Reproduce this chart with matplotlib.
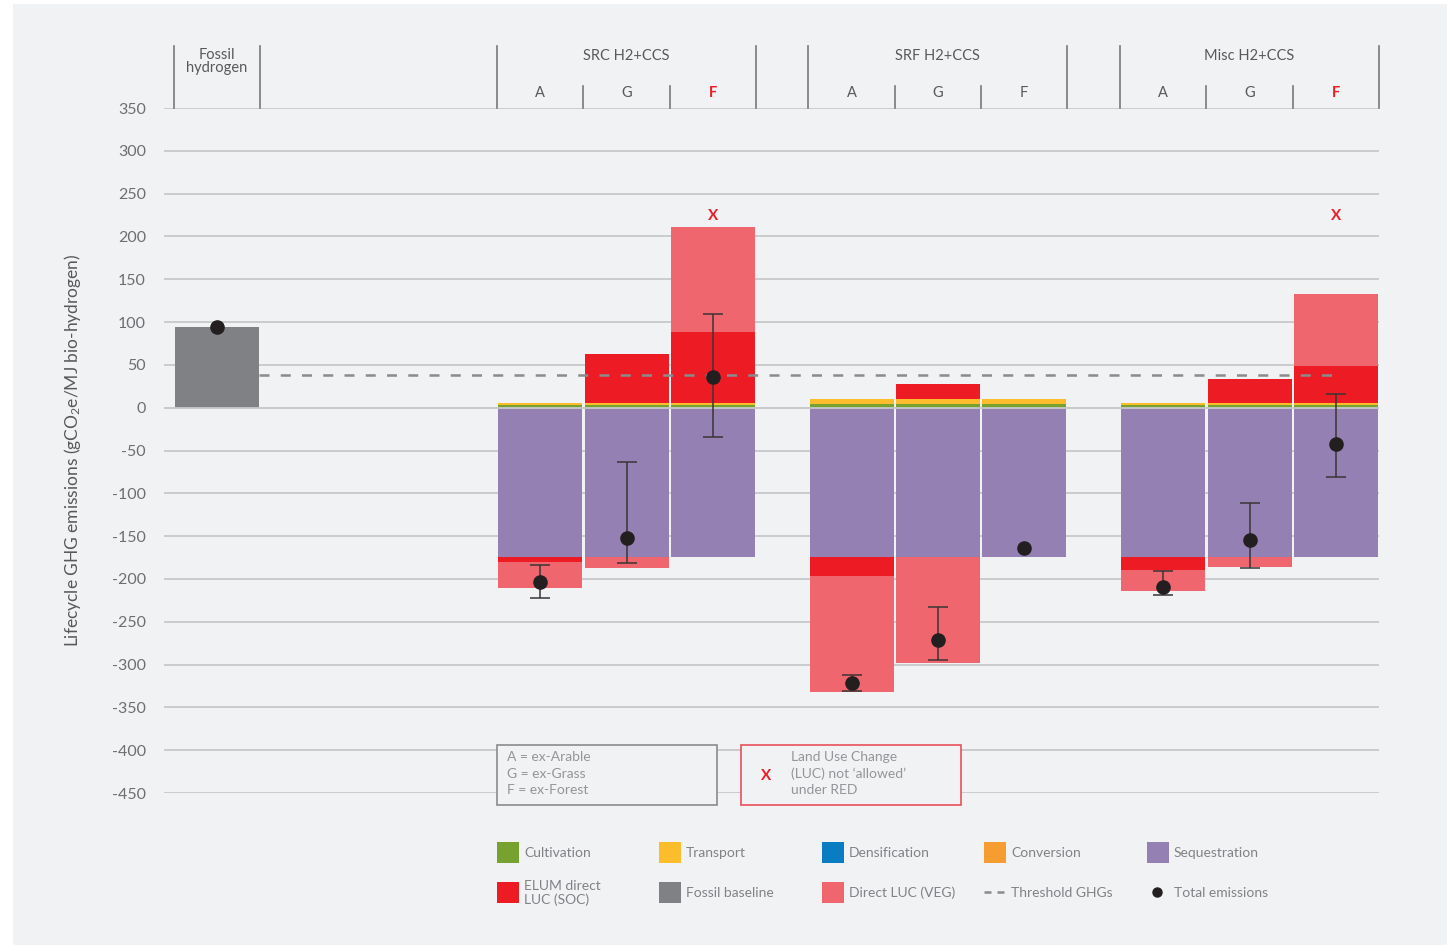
import matplotlib
matplotlib.use("Agg")
import matplotlib.pyplot as plt
from matplotlib.patches import Rectangle
import numpy as np

plt.rcParams['font.family'] = ['Lato', 'DejaVu Sans']
plt.rcParams['mathtext.fontset'] = 'custom'
plt.rcParams['mathtext.rm'] = 'Lato'
plt.rcParams['mathtext.it'] = 'Lato:italic'

# ---------------- data ----------------
groups = ['SRC H2+CCS', 'SRF H2+CCS', 'Misc H2+CCS']
subs = ['A', 'G', 'F']
not_allowed = [False, False, True, False, False, False, False, False, True]
cultivation = [3, 3, 3, 4, 4, 4, 3, 3, 3]
transport = [3, 3, 3, 6, 6, 6, 3, 3, 3]
densification = [0, 0, 0, 0, 0, 0, 0, 0, 0]
conversion = [0, 0, 0, 0, 0, 0, 0, 0, 0]
sequestration = [-174, -174, -174, -174, -174, -174, -174, -174, -174]
elum_soc = [-6, 57, 82, -23, 18, 0, -15, 28, 43]
direct_veg = [-30, -13, 123, -135, -124, 0, -25, -12, 84]
total = [-204, -152, 36, -322, -271, -164, -209, -155, -42]
err_hi = [-184, -64, 110, -312, -233, np.nan, -191, -111, 16]
err_lo = [-222, -181, -34, -331, -295, np.nan, -219, -187, -81]
fossil_baseline = 94.6
fossil_total = 94
threshold = 38.5
yticks = list(range(-450, 351, 50))

# ---------------- style ----------------
C_CULT = '#77a22f'
C_TRAN = '#fbbd2c'
C_DENS = '#0a7cc2'
C_CONV = '#f59d31'
C_SEQ = '#9580b3'
C_ELUM = '#ed1c24'
C_FOSS = '#808184'
C_VEG = '#f0666e'
C_DOT = '#231f20'
TXT = '#6d6e71'
GRID = '#c8c9cb'
BG = '#f1f2f4'

W, H = 1456, 947
fig = plt.figure(figsize=(W / 100, H / 100), dpi=100, facecolor='white')
fig.patches.append(Rectangle((13 / W, 1 - 945 / H), (1447 - 13) / W, (945 - 4) / H,
                             transform=fig.transFigure, facecolor=BG, edgecolor='none', zorder=-10))

ax_left, ax_right = 164, 1379
ax_top, ax_bot = 108, 793
ax = fig.add_axes([ax_left / W, 1 - ax_bot / H, (ax_right - ax_left) / W, (ax_bot - ax_top) / H])
ax.set_facecolor('none')
ax.set_xlim(-0.614, 13.46)
ax.set_ylim(-450, 350)
for s in ax.spines.values():
    s.set_visible(False)
ax.set_xticks([])
ax.set_yticks(yticks)
ax.set_yticklabels([str(v) for v in yticks])
ax.tick_params(axis='y', length=0, pad=13, labelsize=11.5, labelcolor=TXT)
for v in yticks:
    ax.axhline(v, color=GRID, lw=1.3, zorder=0)

ax.set_ylabel('Lifecycle GHG emissions (gCO$_2$e/MJ bio-hydrogen)', fontsize=12.5,
              color='#58595b', labelpad=21)

# positions (layout)
group_starts = [3.245, 6.85, 10.46]
xs = []
for gs in group_starts:
    for k in range(3):
        xs.append(gs + 0.5 + k)
xs = np.array(xs)
bw = 0.973

# fossil bar
ax.bar(0, fossil_baseline, width=bw, color=C_FOSS, zorder=2)
ax.plot(0, fossil_total, 'o', color=C_DOT, ms=9.5, zorder=5)

# stacked bars
pos_b = np.zeros(len(xs))
neg_b = np.zeros(len(xs))
for series, col in [(cultivation, C_CULT), (transport, C_TRAN), (densification, C_DENS),
                    (conversion, C_CONV), (sequestration, C_SEQ), (elum_soc, C_ELUM),
                    (direct_veg, C_VEG)]:
    vals = np.array(series, dtype=float)
    pos = np.where(vals > 0, vals, 0)
    neg = np.where(vals < 0, vals, 0)
    ax.bar(xs, pos, width=bw, bottom=pos_b, color=col, zorder=2, linewidth=0)
    ax.bar(xs, neg, width=bw, bottom=neg_b, color=col, zorder=2, linewidth=0)
    pos_b += pos
    neg_b += neg

ax.axhline(0, color=GRID, lw=1.3, zorder=3)

# threshold line
ax.plot([0.487, xs[-1]], [threshold, threshold], color='#8a8b8d', lw=1.8,
        dashes=(4, 4.5), zorder=4)

# totals with error bars
tot = np.array(total, dtype=float)
ehi = np.array(err_hi, dtype=float)
elo = np.array(err_lo, dtype=float)
yerr = np.vstack([tot - elo, ehi - tot])
ax.errorbar(xs, tot, yerr=yerr, fmt='o', color=C_DOT, ms=9.5, elinewidth=1.1,
            capsize=7, capthick=1.1, ecolor='#3a3536', zorder=5)

for x, na in zip(xs, not_allowed):
    if na:
        ax.text(x, 224, 'X', color=C_ELUM, ha='center', va='center', fontsize=11, fontweight='bold')

# ---------------- header ----------------
px2v = lambda py: (407.7 - py) / 0.85625
HL = '#77787b'
ytop = px2v(46)
ymid = px2v(86)
ybase = 350
for xv in [-0.498, 0.498]:
    ax.plot([xv, xv], [ybase, ytop], color=HL, lw=1.2, clip_on=False)
ax.text(0, px2v(55), 'Fossil', ha='center', va='center', fontsize=10.5,
        color='#58595b', clip_on=False)
ax.text(0, px2v(68), 'hydrogen', ha='center', va='center', fontsize=10.5,
        color='#58595b', clip_on=False)
for gs, gname in zip(group_starts, groups):
    for xv in [gs, gs + 3]:
        ax.plot([xv, xv], [ybase, ytop], color=HL, lw=1.2, clip_on=False)
    for xv in [gs + 1, gs + 2]:
        ax.plot([xv, xv], [ybase, ymid], color=HL, lw=1.2, clip_on=False)
    ax.text(gs + 1.5, px2v(56), gname, ha='center', va='center', fontsize=10.5,
            color='#58595b', clip_on=False)
i = 0
for gs in group_starts:
    for k, sname in enumerate(subs):
        red = not_allowed[i]
        ax.text(gs + 0.5 + k, px2v(93), sname, ha='center', va='center', fontsize=10.5,
                color=C_ELUM if red else '#58595b', fontweight='bold' if red else 'normal',
                clip_on=False)
        i += 1

# ---------------- overlay (pixel coords) ----------------
ov = fig.add_axes([0, 0, 1, 1])
ov.set_xlim(0, W)
ov.set_ylim(H, 0)
ov.axis('off')
ov.patch.set_visible(False)

ov.add_patch(Rectangle((497, 745), 220, 60, facecolor=BG, edgecolor='#8a8b8d', lw=1.2))
ov.add_patch(Rectangle((741, 745), 220, 60, facecolor=BG, edgecolor='#e8505a', lw=1.2))
for j, t in enumerate(['A = ex-Arable', 'G = ex-Grass', 'F = ex-Forest']):
    ov.text(507, 757 + j * 16.5, t, fontsize=10, color='#939598', va='center', ha='left')
for j, t in enumerate(['Land Use Change', '(LUC) not \u2018allowed\u2019', 'under RED']):
    ov.text(791, 757 + j * 16.5, t, fontsize=10, color='#939598', va='center', ha='left')
ov.text(766, 776, 'X', color=C_ELUM, fontsize=11, fontweight='bold', ha='center', va='center')

cols = [497, 659, 822, 984, 1147]
row1 = [('Cultivation', C_CULT), ('Transport', C_TRAN), ('Densification', C_DENS),
        ('Conversion', C_CONV), ('Sequestration', C_SEQ)]
for x0, (lab, col) in zip(cols, row1):
    ov.add_patch(Rectangle((x0, 842), 22, 21, facecolor=col, edgecolor='none'))
    ov.text(x0 + 27, 853, lab, fontsize=10, color='#808285', va='center', ha='left')
row2 = [('ELUM direct\nLUC (SOC)', C_ELUM), ('Fossil baseline', C_FOSS), ('Direct LUC (VEG)', C_VEG)]
for x0, (lab, col) in zip(cols[:3], row2):
    ov.add_patch(Rectangle((x0, 882), 22, 21, facecolor=col, edgecolor='none'))
    lines = lab.split('\n')
    if len(lines) == 1:
        ov.text(x0 + 27, 893, lab, fontsize=10, color='#808285', va='center', ha='left')
    else:
        ov.text(x0 + 27, 886, lines[0], fontsize=10, color='#808285', va='center', ha='left')
        ov.text(x0 + 27, 900, lines[1], fontsize=10, color='#808285', va='center', ha='left')
ov.plot([984, 991], [892, 892], color='#8a8b8d', lw=1.8, solid_capstyle='butt')
ov.plot([997, 1004], [892, 892], color='#8a8b8d', lw=1.8, solid_capstyle='butt')
ov.text(1011, 893, 'Threshold GHGs', fontsize=10, color='#808285', va='center', ha='left')
ov.plot(1157, 892, 'o', color=C_DOT, ms=6.5)
ov.text(1174, 893, 'Total emissions', fontsize=10, color='#808285', va='center', ha='left')

fig.savefig('out.png', dpi=100, facecolor='white')
